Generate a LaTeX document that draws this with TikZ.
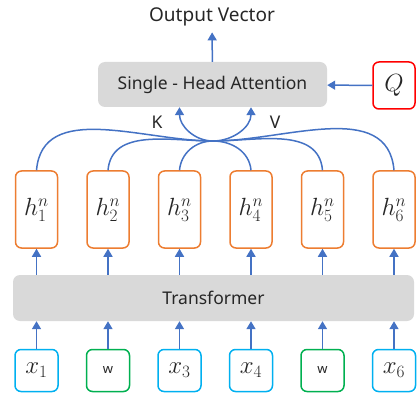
\documentclass[tikz,border=0pt]{standalone}
\usepackage[no-math]{fontspec}
\setmainfont{Noto Sans}
\usetikzlibrary{arrows.meta}
\definecolor{linkblue}{HTML}{4472C4}
\definecolor{hidorange}{HTML}{ED7D31}
\definecolor{wordcyan}{HTML}{00B0F0}
\definecolor{maskgreen}{HTML}{00B050}
\definecolor{queryred}{HTML}{FF0000}
\definecolor{blockgray}{HTML}{D9D9D9}
\begin{document}
\begin{tikzpicture}[
  x=1pt, y=1pt,
  every node/.style={text=black!85, font=\fontsize{17.5}{20}\selectfont},
  arr/.style={linkblue, line width=1.5pt, -{Triangle[width=9pt,length=8pt]}},
  link/.style={linkblue, line width=1.5pt},
  block/.style={fill=blockgray, rounded corners=7pt, inner sep=0pt},
  box/.style={fill=white, line width=1.5pt, rounded corners=6pt, inner sep=0pt},
  hidden/.style={box, draw=hidorange, minimum width=42pt, minimum height=77pt, font=\fontsize{25}{30}\selectfont},
  word/.style={box, draw=wordcyan, minimum width=43pt, minimum height=42pt, font=\fontsize{23}{27}\selectfont},
  mask/.style={box, draw=maskgreen, minimum width=43pt, minimum height=42pt, font=\fontsize{13}{15}\selectfont},
  query/.style={box, draw=queryred, minimum width=42pt, minimum height=47pt, font=\fontsize{24}{28}\selectfont},
]
\useasboundingbox (0,0) rectangle (417,394);

%general params
\def\xstep{71.5}
\def\xfirst{36.5}

%inputs
\node[word] (x1) at (\xfirst+0*\xstep,23.5) {$x_1$};
\node[mask] (x2) at (\xfirst+1*\xstep,23.5) {w};
\node[word] (x3) at (\xfirst+2*\xstep,23.5) {$x_3$};
\node[word] (x4) at (\xfirst+3*\xstep,23.5) {$x_4$};
\node[mask] (x5) at (\xfirst+4*\xstep,23.5) {w};
\node[word] (x6) at (\xfirst+5*\xstep,23.5) {$x_6$};

%encoder
\node[block, minimum width=401pt, minimum height=46pt] (trans) at (213.5,96) {Transformer};

%hidden states
\foreach \i in {1,...,6}
  \node[hidden] (h\i) at (\xfirst+\i*\xstep-\xstep,184.5) {$h_{\i}^{n}$};

\foreach \i in {1,...,6} {
  \draw[arr] (x\i) -- (x\i |- trans.south);
  \draw[arr] (trans.north -| h\i) -- (h\i);
}

%attention
\node[block, minimum width=229pt, minimum height=45pt] (att) at (212.5,309.5) {Single - Head Attention};
\node[query] (q) at (394,308.5) {$Q$};
\node[inner sep=6pt, font=\fontsize{19}{22}\selectfont] (out) at (212,377) {Output Vector};
\coordinate (hub) at (213,253);

\foreach \i in {1,2,3}
  \draw[link] (h\i.north) to[out=85,in=180] (hub);
\foreach \i in {4,5,6}
  \draw[link] (h\i.north) to[out=95,in=0] (hub);

\draw[arr] (hub) to[out=180,in=270] (att.south -| h3);
\draw[arr] (hub) to[out=0,in=270] (att.south -| h4);
\node (klab) at (157,272) {K};
\node (vlab) at (275,272) {V};

\draw[arr] (q) -- (att);
\draw[arr] (att) -- (out);

\end{tikzpicture}
\end{document}
